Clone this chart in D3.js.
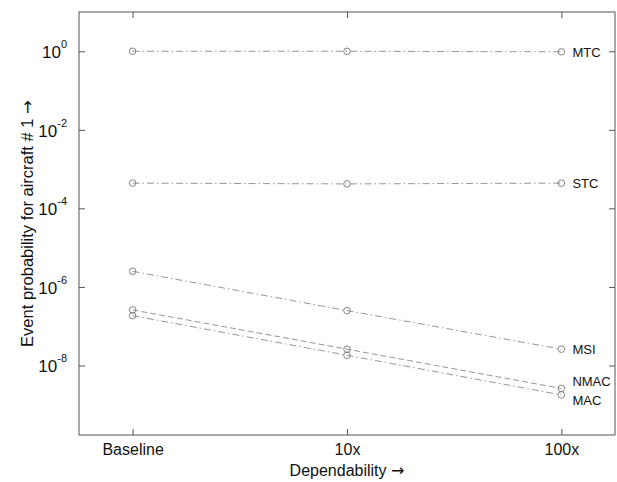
<!DOCTYPE html>
<html>
<head>
<meta charset="utf-8">
<script src="https://cdn.jsdelivr.net/npm/d3@7/dist/d3.min.js"></script>
<style>
  body { margin: 0; background: #fff; }
  svg { display: block; font-family: "Liberation Sans", Arial, sans-serif; }
</style>
</head>
<body>
<div id="chart-area"></div>
<script>
// categories on the x axis
var categories = ["Baseline", "10x", "100x"];

// one row per event type
var seriesNames = ["MTC", "STC", "MSI", "NMAC", "MAC"];
var mtc  = [1.0, 1.0, 0.97];
var stc  = [4.4e-4, 4.2e-4, 4.4e-4];
var msi  = [2.5e-6, 2.5e-7, 2.6e-8];
var nmac = [2.6e-7, 2.6e-8, 2.6e-9];
var mac  = [1.86e-7, 1.82e-8, 1.78e-9];

var yTickValues = [1e0, 1e-2, 1e-4, 1e-6, 1e-8];
var yTickExp = ["0", "-2", "-4", "-6", "-8"];

var allValues = [mtc, stc, msi, nmac, mac];

var width = 617, height = 482;
// plot box edges (note: "top" is reserved on window, so use other names)
var plotLeft = 79, plotRight = 615, plotTop = 12, plotBottom = 435;

var svg = d3.select("#chart-area")
    .append("svg")
    .attr("width", width)
    .attr("height", height);

var x = d3.scaleLinear()
    .domain([0.75, categories.length + 0.25])
    .range([plotLeft, plotRight]);

var y = d3.scaleLog()
    .domain([1.7e-10, 10])
    .range([plotBottom, plotTop]);

var axisColor = "#555";

// frame
svg.append("rect")
    .attr("x", plotLeft)
    .attr("y", plotTop)
    .attr("width", plotRight - plotLeft)
    .attr("height", plotBottom - plotTop)
    .attr("fill", "none")
    .attr("stroke", axisColor)
    .attr("stroke-width", 1);

var xTicks = categories.map(function(d, i) { return i + 1; });

// bottom axis
var xAxis = svg.append("g")
    .attr("transform", "translate(0," + plotBottom + ")")
    .call(d3.axisBottom(x)
        .tickValues(xTicks)
        .tickSize(-6)
        .tickFormat(function(d) { return categories[d - 1]; }));
xAxis.select(".domain").remove();
xAxis.selectAll("line").attr("stroke", axisColor);
xAxis.selectAll("text")
    .attr("y", 20)
    .attr("dy", null)
    .attr("font-size", 16)
    .attr("fill", "#111")
    .attr("font-family", "Liberation Sans, Arial, sans-serif");

// top axis (ticks only)
var xTop = svg.append("g")
    .attr("transform", "translate(0," + plotTop + ")")
    .call(d3.axisTop(x).tickValues(xTicks).tickSize(-6).tickFormat(""));
xTop.select(".domain").remove();
xTop.selectAll("line").attr("stroke", axisColor);

// left axis
var yAxis = svg.append("g")
    .attr("transform", "translate(" + plotLeft + ",0)")
    .call(d3.axisLeft(y).tickValues(yTickValues).tickSize(-6).tickFormat(""));
yAxis.select(".domain").remove();
yAxis.selectAll("line").attr("stroke", axisColor);

// right axis (ticks only)
var yRight = svg.append("g")
    .attr("transform", "translate(" + plotRight + ",0)")
    .call(d3.axisRight(y).tickValues(yTickValues).tickSize(-6).tickFormat(""));
yRight.select(".domain").remove();
yRight.selectAll("line").attr("stroke", axisColor);

// y tick labels as 10 with superscript
var yLabels = svg.append("g");
yTickValues.forEach(function(v, i) {
    var t = yLabels.append("text")
        .attr("x", plotLeft - 12)
        .attr("y", y(v) + 7)
        .attr("text-anchor", "end")
        .attr("fill", "#111")
        .attr("font-size", 17);
    t.append("tspan").text("10");
    t.append("tspan")
        .attr("font-size", 11)
        .attr("dy", -10)
        .text(yTickExp[i]);
});

// axis titles, arrow drawn in DejaVu so it is as long as in the original
var xTitle = svg.append("text")
    .attr("x", (plotLeft + plotRight) / 2)
    .attr("y", 476)
    .attr("text-anchor", "middle")
    .attr("font-size", 16)
    .attr("fill", "#111");
xTitle.append("tspan").text("Dependability ");
xTitle.append("tspan").attr("font-family", "DejaVu Sans").text("\u2192");

var yTitle = svg.append("text")
    .attr("transform", "translate(33," + ((plotTop + plotBottom) / 2) + ") rotate(-90)")
    .attr("text-anchor", "middle")
    .attr("font-size", 16.5)
    .attr("fill", "#111");
yTitle.append("tspan").text("Event probability for aircraft # 1 ");
yTitle.append("tspan").attr("font-family", "DejaVu Sans").text("\u2192");

// series
var dashes = {
    MTC: "7,3,1.5,3",
    STC: "7,3,1.5,3",
    MSI: "7,3,1.5,3",
    NMAC: "6,3",
    MAC: "7,3,1.5,3"
};
var labelShift = { MTC: 0, STC: 0, MSI: 0, NMAC: -7, MAC: 5 };

var line = d3.line()
    .x(function(d, i) { return x(i + 1); })
    .y(function(d) { return y(d); });

var lineColor = "#8a8a8a";

seriesNames.forEach(function(name, k) {
    var vals = allValues[k];
    svg.append("path")
        .datum(vals)
        .attr("d", line)
        .attr("fill", "none")
        .attr("stroke", lineColor)
        .attr("stroke-width", 0.9)
        .attr("stroke-dasharray", dashes[name]);

    svg.selectAll(".pt-" + name)
        .data(vals)
        .enter()
            .append("circle")
            .attr("cx", function(d, i) { return x(i + 1); })
            .attr("cy", function(d) { return y(d); })
            .attr("r", 3.3)
            .attr("fill", "none")
            .attr("stroke", "#777")
            .attr("stroke-width", 0.9);

    svg.append("text")
        .attr("x", x(vals.length) + 11)
        .attr("y", y(vals[vals.length - 1]) + labelShift[name] + 5)
        .attr("font-size", 13)
        .attr("fill", "#111")
        .text(name);
});
</script>
</body>
</html>
